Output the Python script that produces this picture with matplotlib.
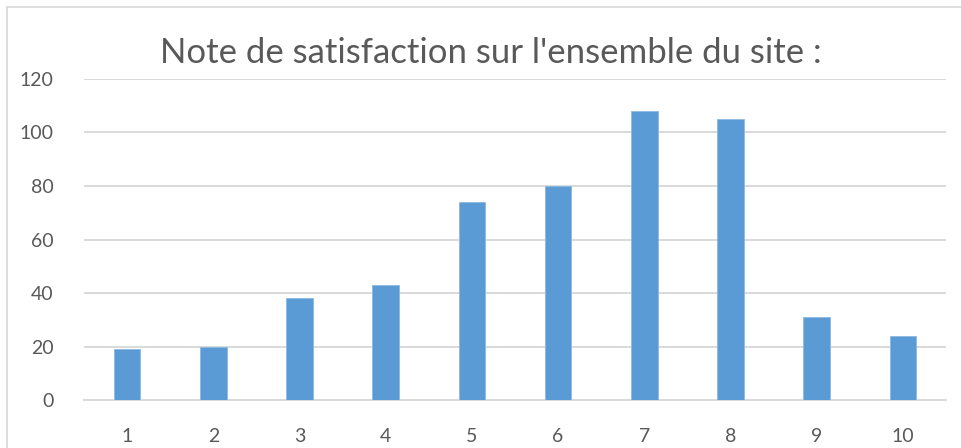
# Note de satisfaction - bar chart
import matplotlib
matplotlib.use("Agg")
import matplotlib.pyplot as plt
from matplotlib.lines import Line2D

notes = ['1', '2', '3', '4', '5', '6', '7', '8', '9', '10']
effectifs = [19, 20, 38, 43, 74, 80, 108, 105, 31, 24]
yticks = [0, 20, 40, 60, 80, 100, 120]

plt.rcParams['font.family'] = ['Lato', 'DejaVu Sans']

fig = plt.figure(figsize=(9.62, 4.48), dpi=100)
ax = fig.add_axes([0.0873, 0.1071, 0.8961, 0.7166])

x = range(len(notes))
ax.bar(x, effectifs, width=0.31, color='#5b9bd5', edgecolor='#8db8e3', linewidth=0.6, zorder=3)

ax.set_xlim(-0.5, len(notes) - 0.5)
ax.set_ylim(0, 120)
ax.set_yticks(yticks)
ax.set_xticks(list(x))
ax.set_xticklabels(notes)

ax.grid(axis='y', color='#d9d9d9', linewidth=1.4, zorder=0)
for s in ['left', 'right', 'top']:
    ax.spines[s].set_visible(False)
ax.spines['bottom'].set_color('#d9d9d9')
ax.spines['bottom'].set_linewidth(1.4)
ax.tick_params(axis='both', length=0, labelsize=14, colors='#595959')
ax.tick_params(axis='y', pad=22)
ax.tick_params(axis='x', pad=20)

fig.text(0.51, 0.882, "Note de satisfaction sur l'ensemble du site :",
         ha='center', va='center', fontsize=25, color='#595959')

# chart frame
W, H = 962, 448
fig.add_artist(Line2D([7 / W, 7 / W], [0, 1 - 7 / H], color='#d9d9d9', linewidth=1.2))
fig.add_artist(Line2D([7 / W, 1], [1 - 7 / H, 1 - 7 / H], color='#d9d9d9', linewidth=1.2))

fig.savefig('out.png', dpi=100)
